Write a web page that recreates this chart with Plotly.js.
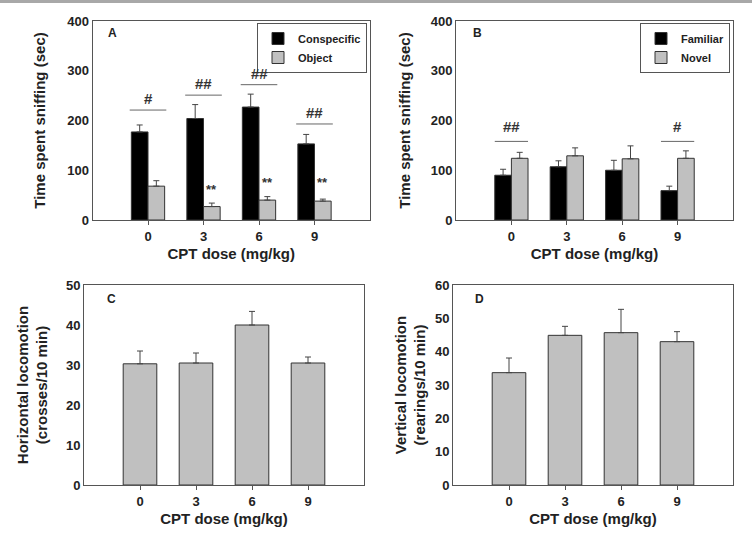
<!DOCTYPE html>
<html>
<head>
<meta charset="utf-8">
<script src="https://cdn.plot.ly/plotly-3.0.1.min.js"></script>
<style>html,body{margin:0;padding:0;background:#fff;}#chart{width:752px;height:538px;}</style>
</head>
<body>
<div id="chart"></div>
<script>
// ---- data ----
const doses = ['0', '3', '6', '9'];

// Panel A
const conspecific = [177, 204, 227, 153];
const conspecificErr = [14, 28, 26, 19];
const objectVals = [68, 27, 40, 38];
const objectErr = [11, 7, 7, 4];
const sigA_dose = ['0', '3', '6', '9'];
const sigA_level = [221, 251, 272, 193];
const sigA_label = ['#', '##', '##', '##'];
const starsA_dose = ['3', '6', '9'];
const starsA_level = [62, 76, 76];

// Panel B
const familiar = [90, 107, 100, 59];
const familiarErr = [12, 12, 20, 9];
const novel = [124, 129, 123, 124];
const novelErr = [12, 16, 26, 15];
const sigB_dose = ['0', '9'];
const sigB_level = [158, 158];
const sigB_label = ['##', '#'];

// Panel C
const horizontal = [30.3, 30.5, 40.0, 30.5];
const horizontalErr = [3.2, 2.5, 3.4, 1.5];

// Panel D
const vertical = [33.7, 44.9, 45.7, 43.0];
const verticalErr = [4.4, 2.7, 7.0, 3.0];

// ---- styling ----
const FAM = '"Liberation Sans", Arial, sans-serif';
const TXT = '#222';
const LINE = '#555';
const BLACK = '#000000';
const GREY = '#c0c0c0';
const BAR_LINE = {color: '#333', width: 1};

function err(arr) {
  return {type: 'data', symmetric: false, array: arr, arrayminus: arr.map(() => 0),
          color: '#444', thickness: 1, width: 3};
}
function barTrace(y, e, name, color, xa, ya, legend, show) {
  return {type: 'bar', x: doses, y: y, name: name, xaxis: xa, yaxis: ya,
          marker: {color: color, line: BAR_LINE}, error_y: err(e),
          legend: legend, showlegend: show, hoverinfo: 'skip'};
}

const data = [
  barTrace(conspecific, conspecificErr, 'Conspecific', BLACK, 'x', 'y', 'legend', true),
  barTrace(objectVals, objectErr, 'Object', GREY, 'x', 'y', 'legend', true),
  barTrace(familiar, familiarErr, 'Familiar', BLACK, 'x2', 'y2', 'legend2', true),
  barTrace(novel, novelErr, 'Novel', GREY, 'x2', 'y2', 'legend2', true),
  barTrace(horizontal, horizontalErr, 'Horizontal', GREY, 'x3', 'y3', 'legend', false),
  barTrace(vertical, verticalErr, 'Vertical', GREY, 'x4', 'y4', 'legend', false)
];

const tickFont = {family: FAM, size: 13, color: TXT, weight: 'bold'};
function xAxis(domain, anchor) {
  return {domain: domain, anchor: anchor, type: 'category', range: [-1, 4],
          showline: true, mirror: true, linecolor: LINE, linewidth: 1,
          ticks: 'outside', ticklen: 4, tickcolor: LINE, tickfont: tickFont,
          showgrid: false, zeroline: false, fixedrange: true,
          title: {text: 'CPT dose (mg/kg)', font: {family: FAM, size: 15, color: TXT, weight: 'bold'}, standoff: 5}};
}
function yAxis(domain, anchor, range, dtick, title, standoff) {
  return {domain: domain, anchor: anchor, range: range, dtick: dtick,
          showline: true, mirror: true, linecolor: LINE, linewidth: 1,
          ticks: '', tickfont: tickFont, showgrid: false, zeroline: false, fixedrange: true,
          title: {text: title, font: {family: FAM, size: 15, color: TXT, weight: 'bold'}, standoff: standoff}};
}

const W = 752, H = 538;
const px = (a, b) => [a / W, b / W];
const py = (top, bottom) => [(H - bottom) / H, (H - top) / H];

const shapes = [
  {type: 'rect', xref: 'paper', yref: 'paper', x0: 0, x1: 1, y0: 1 - 3 / H, y1: 1,
   fillcolor: '#a8a8a8', line: {width: 0}}
];
const annotations = [];
const sigFont = {family: FAM, size: 15, color: '#333', weight: 'bold'};

sigA_dose.forEach((d, i) => {
  const c = doses.indexOf(d);
  shapes.push({type: 'line', xref: 'x', yref: 'y', x0: c - 0.33, x1: c + 0.33,
               y0: sigA_level[i], y1: sigA_level[i], line: {color: '#666', width: 1}});
  annotations.push({xref: 'x', yref: 'y', x: c, y: sigA_level[i], text: sigA_label[i],
                    showarrow: false, yanchor: 'bottom', yshift: 1, font: sigFont});
});
starsA_dose.forEach((d, i) => {
  const c = doses.indexOf(d);
  annotations.push({xref: 'x', yref: 'y', x: c + 0.15, y: starsA_level[i], text: '**',
                    showarrow: false, yanchor: 'middle', font: {family: FAM, size: 13, color: '#333', weight: 'bold'}});
});
sigB_dose.forEach((d, i) => {
  const c = doses.indexOf(d);
  shapes.push({type: 'line', xref: 'x2', yref: 'y2', x0: c - 0.3, x1: c + 0.3,
               y0: sigB_level[i], y1: sigB_level[i], line: {color: '#666', width: 1}});
  annotations.push({xref: 'x2', yref: 'y2', x: c, y: sigB_level[i], text: sigB_label[i],
                    showarrow: false, yanchor: 'bottom', yshift: 4, font: sigFont});
});

const panelFont = {family: FAM, size: 12, color: TXT, weight: 'bold'};
[['A', 'x', 'y', 0.05, 0.94], ['B', 'x2', 'y2', 0.055, 0.94],
 ['C', 'x3', 'y3', 0.075, 0.93], ['D', 'x4', 'y4', 0.07, 0.93]].forEach(p => {
  annotations.push({xref: p[1] + ' domain', yref: p[2] + ' domain', x: p[3], y: p[4], text: p[0],
                    showarrow: false, xanchor: 'left', yanchor: 'middle', font: panelFont});
});

const legendFont = {family: FAM, size: 11, color: TXT, weight: 'bold'};
const layout = {
  width: W, height: H,
  margin: {l: 0, r: 0, t: 0, b: 0},
  paper_bgcolor: '#ffffff', plot_bgcolor: '#ffffff',
  barmode: 'group', bargap: 0.4, bargroupgap: 0,
  showlegend: true,
  legend: {x: 367 / W, y: (H - 23) / H, xanchor: 'right', yanchor: 'top',
           bordercolor: '#555', borderwidth: 1, bgcolor: '#fff', font: legendFont,
           tracegroupgap: 0, itemwidth: 30},
  legend2: {x: 730 / W, y: (H - 23) / H, xanchor: 'right', yanchor: 'top',
            bordercolor: '#555', borderwidth: 1, bgcolor: '#fff', font: legendFont,
            tracegroupgap: 0, itemwidth: 30},
  xaxis: xAxis(px(92.5, 370), 'y'),
  yaxis: yAxis(py(21, 220), 'x', [0, 400], 100, 'Time spent sniffing (sec)', 17),
  xaxis2: xAxis(px(456, 733), 'y2'),
  yaxis2: yAxis(py(21, 220), 'x2', [0, 400], 100, 'Time spent sniffing (sec)', 16),
  xaxis3: xAxis(px(84, 364), 'y3'),
  yaxis3: yAxis(py(285, 485), 'x3', [0, 50], 10, 'Horizontal locomotion<br>(crosses/10 min)', 14),
  xaxis4: xAxis(px(453, 733), 'y4'),
  yaxis4: yAxis(py(285, 485), 'x4', [0, 60], 10, 'Vertical locomotion<br>(rearings/10 min)', 5),
  shapes: shapes,
  annotations: annotations
};

Plotly.newPlot('chart', data, layout, {displayModeBar: false, staticPlot: true});
</script>
</body>
</html>
